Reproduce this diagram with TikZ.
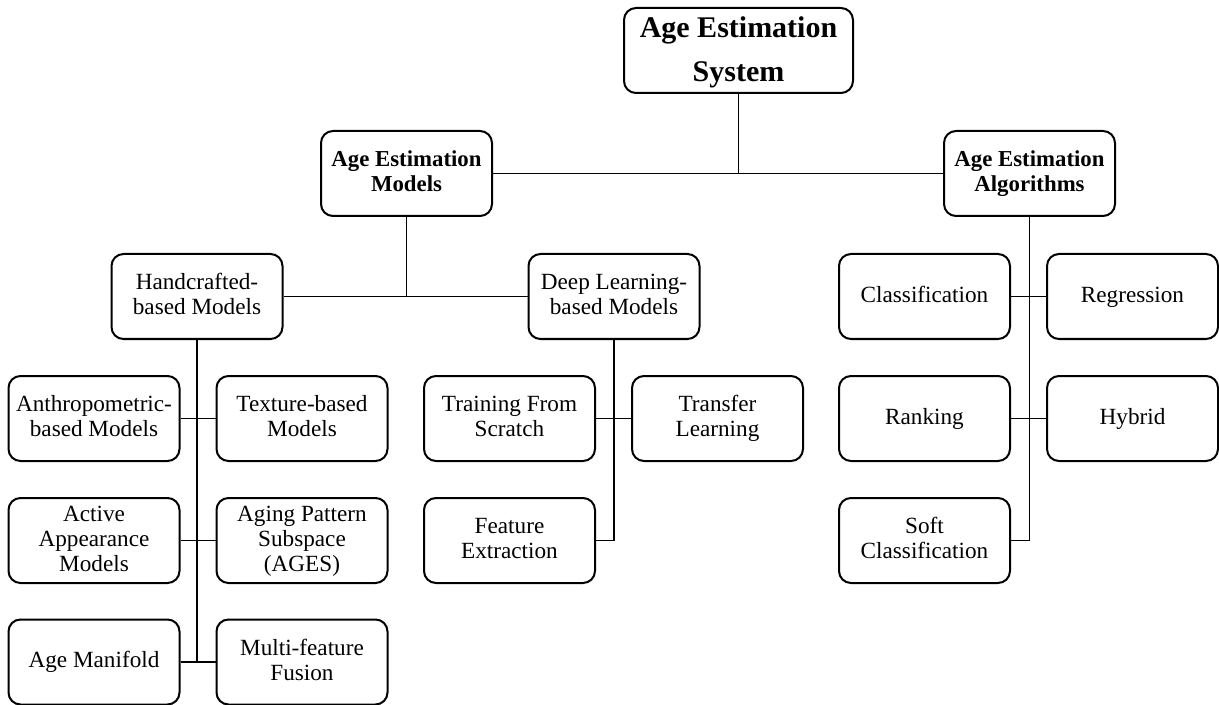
\documentclass[tikz,border=0pt]{standalone}
\usepackage{fontspec}
\usepackage{array}
\setmainfont{Liberation Serif}

\newcommand{\boxlines}[1]{\begin{tabular}{@{}c@{}}#1\end{tabular}}

\tikzset{
    boxbase/.style={draw, line width=1pt, rounded corners=6pt,
        inner xsep=2pt, inner ysep=0pt},
    box/.style={boxbase, minimum width=85.5pt, minimum height=42.5pt,
        font=\fontsize{11.6}{11}\selectfont,
        execute at begin node={\setlength\extrarowheight{1.5pt}}},
    headbox/.style={box, font=\fontsize{11.4}{11}\selectfont\bfseries},
    rootbox/.style={boxbase, minimum width=114.5pt, minimum height=42.5pt,
        inner ysep=-0.75pt, font=\fontsize{15}{22}\selectfont\bfseries},
    link/.style={line width=0.7pt}
}

\begin{document}
\begin{tikzpicture}[x=0.5pt, y=-0.5pt]
\useasboundingbox (0, 0) rectangle (1219, 705);

\node[rootbox] (system) at (738.5, 50.5) {\boxlines{Age Estimation\\System}};
\node[headbox] (models) at (406.5, 173.5) {\boxlines{Age Estimation\\Models}};
\node[headbox] (algos) at (1029.5, 173.5) {\boxlines{Age Estimation\\Algorithms}};

\node[box] (hand) at (197, 296.5) {\boxlines{Handcrafted-\\based Models}};
\node[box] (deep) at (614, 296.5) {\boxlines{Deep Learning-\\based Models}};

\node[box] (anthro) at (94, 418.5) {\boxlines{Anthropometric-\\based Models}};
\node[box] (texture) at (302, 418.5) {\boxlines{Texture-based\\Models}};
\node[box] (active) at (94, 540.5) {\boxlines{Active\\Appearance\\Models}};
\node[box] (ages) at (302, 540.5) {\boxlines{Aging Pattern\\Subspace\\(AGES)}};
\node[box] (manif) at (94, 662) {\boxlines{Age Manifold}};
\node[box] (multi) at (302, 662) {\boxlines{Multi-feature\\Fusion}};

\node[box] (train) at (509.5, 418.5) {\boxlines{Training From\\Scratch}};
\node[box] (trans) at (717.5, 418.5) {\boxlines{Transfer\\Learning}};
\node[box] (feat) at (509.5, 540.5) {\boxlines{Feature\\Extraction}};

\node[box] (clas) at (924.5, 296.5) {\boxlines{Classification}};
\node[box] (regr) at (1132.5, 296.5) {\boxlines{Regression}};
\node[box] (rank) at (924.5, 418.5) {\boxlines{Ranking}};
\node[box] (hybr) at (1132.5, 418.5) {\boxlines{Hybrid}};
\node[box] (soft) at (924.5, 540.5) {\boxlines{Soft\\Classification}};

% top level
\draw[link] (system.south) -- (system.south |- models.east);
\draw[link] (models.east) -- (algos.west);

% models
\draw[link] (models.south) -- (models.south |- hand.east);
\draw[link] (hand.east) -- (deep.west);

\draw[link] (hand.south) -- (hand.south |- manif.east);
\draw[link] (anthro.east) -- (texture.west);
\draw[link] (active.east) -- (ages.west);
\draw[link] (manif.east) -- (multi.west);

\draw[link] (deep.south) -- (deep.south |- feat.east) -- (feat.east);
\draw[link] (train.east) -- (trans.west);

% algorithms
\draw[link] (algos.south) -- (algos.south |- soft.east) -- (soft.east);
\draw[link] (clas.east) -- (regr.west);
\draw[link] (rank.east) -- (hybr.west);
\end{tikzpicture}
\end{document}
